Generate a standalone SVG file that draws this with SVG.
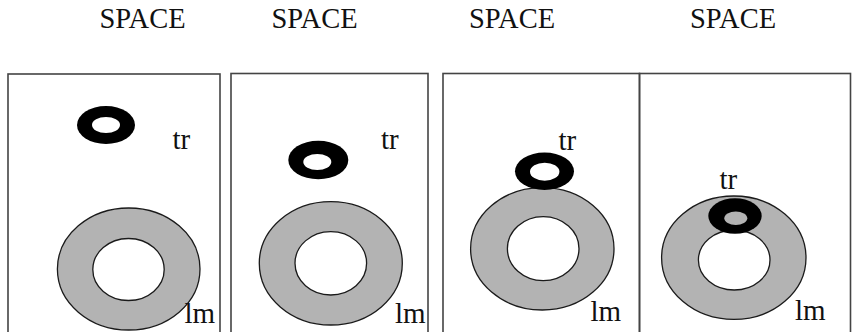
<svg xmlns="http://www.w3.org/2000/svg" width="864" height="332" viewBox="0 0 864 332">
<style>
.t{font-family:"Liberation Serif","Times New Roman",serif;font-size:29px;fill:#111}
.h{font-family:"Liberation Serif","Times New Roman",serif;font-size:28.5px;fill:#111}
.box{fill:none;stroke:#444;stroke-width:1.6}
.g{fill:#b3b3b3;stroke:#1a1a1a;stroke-width:1.3}
.w{fill:#fff;stroke:#1a1a1a;stroke-width:1.3}
.bk{fill:#000}
.hw{fill:#fff}
.hg{fill:#b3b3b3}
</style>
<rect width="864" height="332" fill="#fff"/>
<g id="panel1">
<text class="h" x="99.5" y="28">SPACE</text>
<rect class="box" x="8" y="74" width="212" height="280"/>
<g id="lm1"><ellipse class="g" cx="128.7" cy="269" rx="71.3" ry="61"/><ellipse class="w" cx="128.5" cy="269.5" rx="35.7" ry="31"/><text class="t" x="184.5" y="323">lm</text></g>
<g id="tr1"><ellipse class="bk" cx="106" cy="125" rx="29" ry="19"/><ellipse class="hw" cx="106" cy="125" rx="14" ry="8"/><text class="t" x="172.5" y="149">tr</text></g>
</g>
<g id="panel2">
<text class="h" x="271.5" y="28">SPACE</text>
<rect class="box" x="231" y="73.5" width="197" height="280"/>
<g id="lm2"><ellipse class="g" cx="330.8" cy="263.3" rx="71.5" ry="61.7"/><ellipse class="w" cx="330.8" cy="263.3" rx="35.8" ry="31.7"/><text class="t" x="395" y="323">lm</text></g>
<g id="tr2"><ellipse class="bk" cx="318.3" cy="160" rx="30" ry="19.3"/><ellipse class="hw" cx="317.3" cy="162" rx="14" ry="8"/><text class="t" x="381" y="149">tr</text></g>
</g>
<g id="panel3">
<text class="h" x="469" y="28">SPACE</text>
<rect class="box" x="443" y="73.5" width="196.5" height="280"/>
<g id="lm3"><ellipse class="g" cx="542.3" cy="248.8" rx="71.7" ry="61.2"/><ellipse class="w" cx="543.2" cy="248.7" rx="35.8" ry="32"/><text class="t" x="590.5" y="321">lm</text></g>
<g id="tr3"><ellipse class="bk" cx="544.5" cy="171.3" rx="29.5" ry="18.7"/><ellipse class="hw" cx="544.7" cy="171.7" rx="14.7" ry="9"/><text class="t" x="558.5" y="150">tr</text></g>
</g>
<g id="panel4">
<text class="h" x="690" y="28">SPACE</text>
<rect class="box" x="639.5" y="73.5" width="211" height="280"/>
<g id="lm4"><ellipse class="g" cx="733.8" cy="257.7" rx="72.2" ry="61.7"/><ellipse class="w" cx="734.2" cy="260" rx="35.8" ry="30"/><text class="t" x="795" y="320">lm</text></g>
<g id="tr4"><ellipse class="bk" cx="735" cy="216" rx="26.7" ry="17.8"/><ellipse class="hg" cx="735.8" cy="218.3" rx="11.5" ry="6.7"/><text class="t" x="719.5" y="189">tr</text></g>
</g>
</svg>
